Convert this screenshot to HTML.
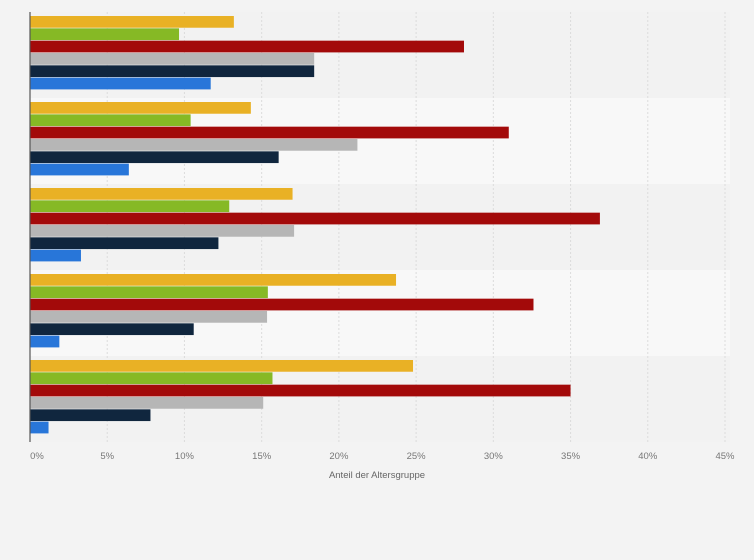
<!DOCTYPE html>
<html><head><meta charset="utf-8"><style>
body{margin:0;background:#f3f3f3;font-family:"Liberation Sans",sans-serif}
svg{display:block}
</style></head><body>
<svg id="c" width="754" height="560" xmlns="http://www.w3.org/2000/svg"></svg>
<script>
const groups=["g1","g2","g3","g4","g5"];
const seriesNames=["yellow","green","red","gray","navy","blue"];
const colors=["#e9b125","#86b925","#a30a0a","#b6b6b6","#10263e","#2876d9"];
const yellowVals=[13.2,14.3,17.0,23.7,24.8];
const greenVals=[9.65,10.4,12.9,15.4,15.7];
const redVals=[28.1,31.0,36.9,32.6,35.0];
const grayVals=[18.4,21.2,17.1,15.35,15.1];
const navyVals=[18.4,16.1,12.2,10.6,7.8];
const blueVals=[11.7,6.4,3.3,1.9,1.2];
const ticks=[0,5,10,15,20,25,30,35,40,45];
const tickLabels=["0%","5%","10%","15%","20%","25%","30%","35%","40%","45%"];
const allSeries=[yellowVals,greenVals,redVals,grayVals,navyVals,blueVals];
const svg=document.getElementById('c');const NS="http://www.w3.org/2000/svg";
const x0=30,x1=725,yTop=12,yBot=442,xMax=45;
const xs=v=>x0+(x1-x0)*v/xMax;
const bandH=(yBot-yTop)/groups.length;
function mk(t,a){const e=document.createElementNS(NS,t);for(const k in a)e.setAttribute(k,a[k]);svg.appendChild(e);return e;}
groups.forEach((g,i)=>{const r=mk('rect',{x:x0,y:yTop+i*bandH,width:x1-x0+5,height:bandH,fill:i%2?'#f8f8f8':'#f2f2f2'});

});
ticks.forEach((t,i)=>{if(i>0){const l=mk('line',{x1:xs(t),x2:xs(t),y1:yTop,y2:yBot,stroke:'#dcdcdc','stroke-dasharray':'2,2'});

}
const tx=mk('text',{x:xs(t)+(i==0?7:0),y:459,'font-size':'9.5',fill:'#777','text-anchor':'middle'});tx.textContent=tickLabels[i];

});
const barH=(bandH-12)/6;
groups.forEach((g,i)=>{allSeries.forEach((s,j)=>{const b=mk('rect',{x:x0,y:yTop+i*bandH+4+j*barH,width:xs(s[i])-x0,height:barH-0.6,fill:colors[j]});

});});
const ax=mk('line',{x1:x0,x2:x0,y1:yTop,y2:yBot,stroke:'#555','stroke-width':1.2});


const tt=mk('text',{x:377,y:478,'font-size':'9.5',fill:'#666','text-anchor':'middle'});tt.textContent="Anteil der Altersgruppe";


</script>
</body></html>
